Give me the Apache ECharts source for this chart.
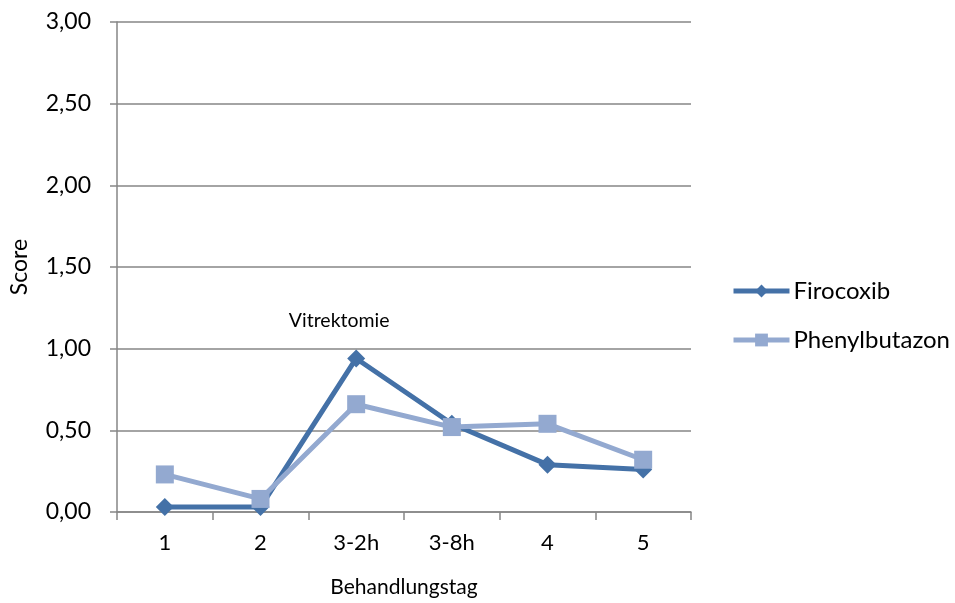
<!DOCTYPE html>
<html>
<head>
<meta charset="utf-8">
<script src="https://cdn.jsdelivr.net/npm/echarts@6/dist/echarts.min.js"></script>
<style>
  html, body { margin: 0; padding: 0; background: #fff; }
  #chart { width: 955px; height: 603px; }
</style>
</head>
<body>
<div id="chart"></div>
<script>
// Treatment days and mean scores per drug
const categories = ['1', '2', '3-2h', '3-8h', '4', '5'];
const firocoxib = [0.03, 0.03, 0.94, 0.54, 0.29, 0.26];
const phenylbutazon = [0.23, 0.08, 0.66, 0.52, 0.54, 0.32];
const yTicks = { min: 0, max: 3, interval: 0.5 };
const noteText = 'Vitrektomie';
const noteCategory = '3-2h';

const FONT = 'Lato, "Open Sans", sans-serif';
const GRAY = '#868686';

const chart = echarts.init(document.getElementById('chart'));
chart.setOption({
  animation: false,
  backgroundColor: '#ffffff',
  grid: { left: 115, right: 264, top: 22, bottom: 90, containLabel: false },
  legend: {
    orient: 'vertical',
    left: 726,
    top: 274,
    padding: 5,
    itemWidth: 56,
    itemHeight: 16,
    itemGap: 25,
    lineStyle: { width: 5 },
    textStyle: { fontFamily: FONT, fontSize: 24, color: '#000', padding: [0, 0, 0, -1] },
    data: ['Firocoxib', 'Phenylbutazon']
  },
  xAxis: {
    type: 'category',
    data: categories,
    boundaryGap: true,
    name: 'Behandlungstag',
    nameLocation: 'middle',
    nameGap: 65,
    nameTextStyle: { fontFamily: FONT, fontSize: 21, color: '#000' },
    axisLine: { lineStyle: { color: GRAY, width: 1.5 } },
    axisTick: { show: true, length: 8, alignWithLabel: false, lineStyle: { color: GRAY, width: 1.5 } },
    axisLabel: { fontFamily: FONT, fontSize: 22, color: '#000', margin: 20 },
    splitLine: { show: false }
  },
  yAxis: {
    type: 'value',
    min: yTicks.min,
    max: yTicks.max,
    interval: yTicks.interval,
    name: 'Score',
    nameLocation: 'middle',
    nameGap: 86,
    nameRotate: 90,
    nameTextStyle: { fontFamily: FONT, fontSize: 23, color: '#000' },
    axisLine: { show: true, lineStyle: { color: GRAY, width: 1.5 } },
    axisTick: { show: true, length: 7, inside: false, lineStyle: { color: GRAY, width: 1.5 } },
    axisLabel: {
      fontFamily: FONT, fontSize: 23, color: '#000', margin: 26,
      formatter: v => v.toFixed(2).replace('.', ',')
    },
    splitLine: { show: true, lineStyle: { color: GRAY, width: 1.5 } }
  },
  series: [
    {
      name: 'Firocoxib',
      type: 'line',
      data: firocoxib,
      symbol: 'diamond',
      symbolSize: 18,
      color: '#4471A7',
      lineStyle: { width: 5, color: '#4471A7' },
      itemStyle: { color: '#4471A7' },
      z: 2,
      markPoint: {
        symbol: 'circle',
        symbolSize: 1,
        itemStyle: { color: 'rgba(0,0,0,0)' },
        data: [{ coord: [noteCategory, firocoxib[categories.indexOf(noteCategory)]] }],
        label: {
          show: true,
          position: 'inside',
          formatter: noteText,
          fontFamily: FONT,
          fontSize: 19.5,
          color: '#000',
          offset: [-17, -38]
        }
      }
    },
    {
      name: 'Phenylbutazon',
      type: 'line',
      data: phenylbutazon,
      symbol: 'rect',
      symbolSize: 18,
      color: '#93A9D0',
      lineStyle: { width: 5, color: '#93A9D0' },
      itemStyle: { color: '#93A9D0' },
      z: 3
    }
  ]
});
</script>
</body>
</html>
